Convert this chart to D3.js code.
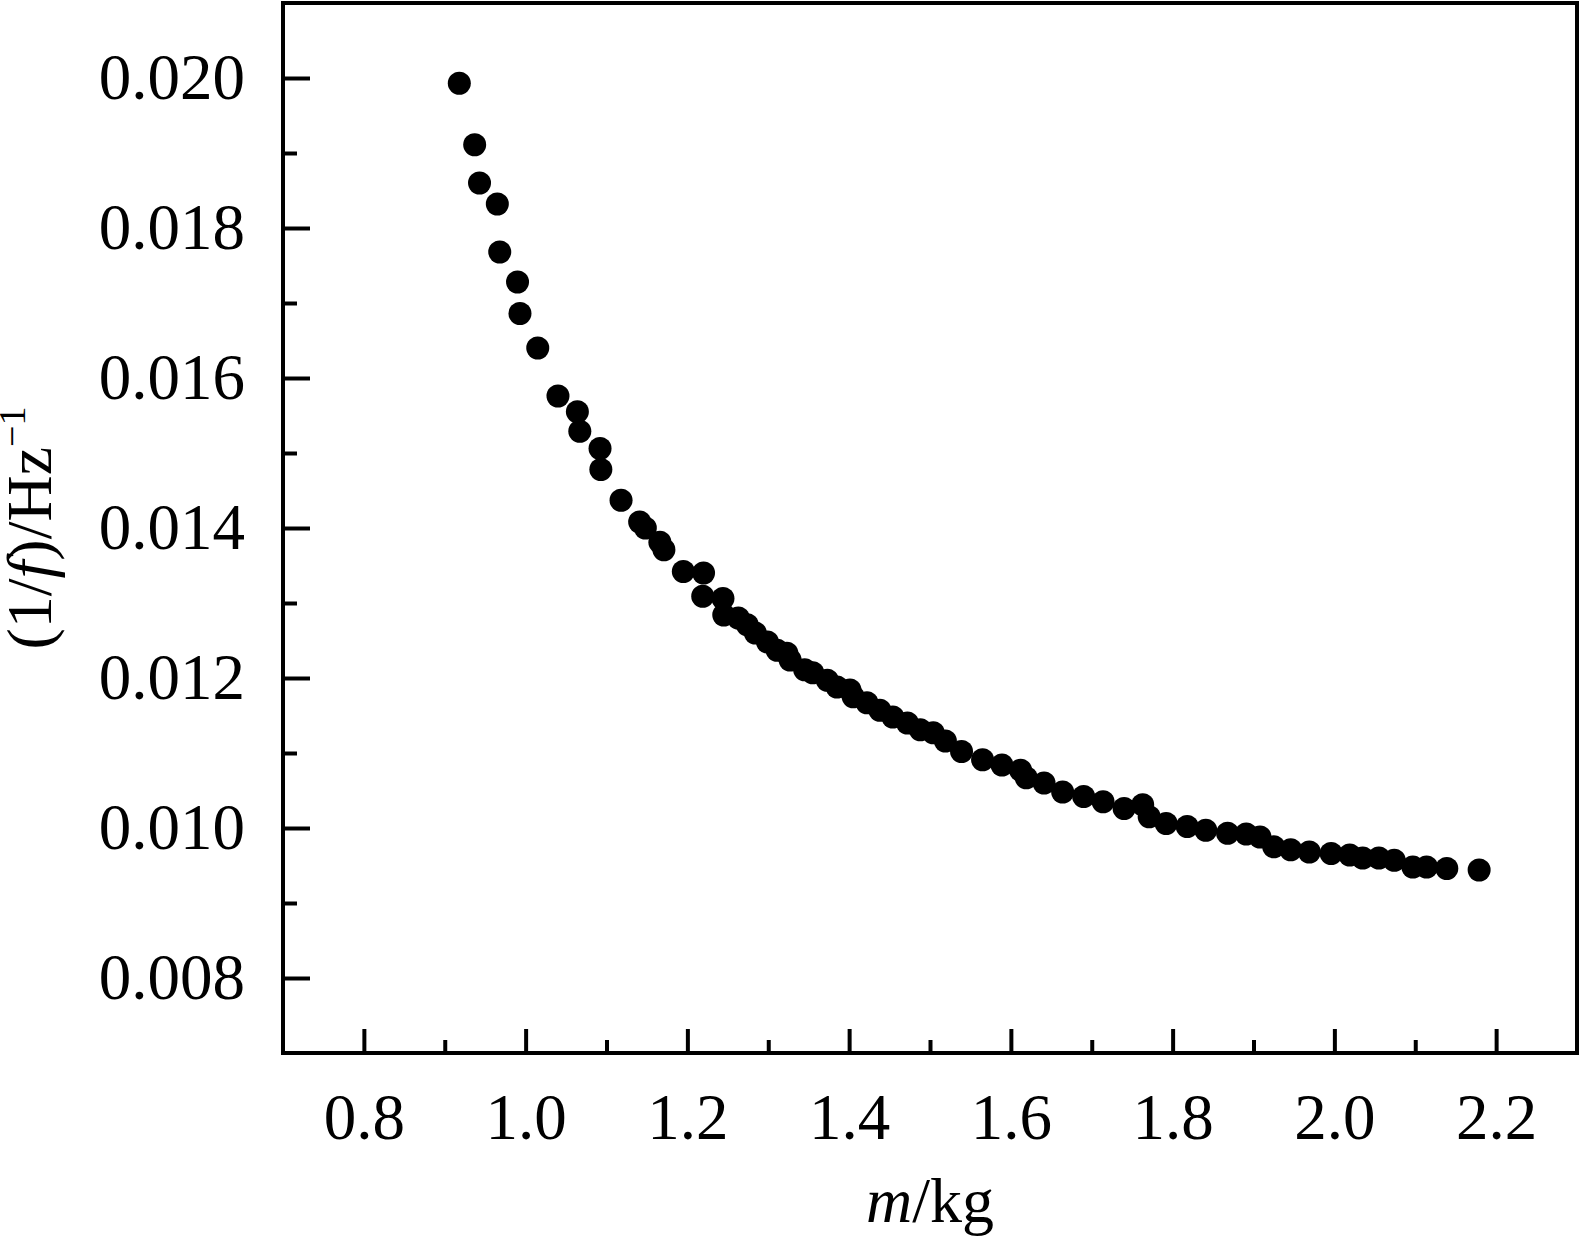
<!DOCTYPE html>
<html>
<head>
<meta charset="utf-8">
<script src="https://cdn.jsdelivr.net/npm/d3@7"></script>
<style>
  body { margin: 0; background: #fff; }
  svg text { font-family: "Liberation Serif", "Times New Roman", serif; fill: #000; }
</style>
</head>
<body>
<svg id="chart"></svg>
<script>
// masse (kg) e periodo 1/f (Hz^-1)
const massKg = [
  0.918, 0.937, 0.943, 0.965, 0.968, 0.990, 0.993, 1.015, 1.040, 1.064,
  1.067, 1.092, 1.093, 1.118, 1.141, 1.148, 1.166, 1.171, 1.195, 1.220,
  1.219, 1.244, 1.245, 1.263, 1.274, 1.284, 1.299, 1.311, 1.323, 1.327,
  1.345, 1.355, 1.373, 1.385, 1.401, 1.405, 1.422, 1.438, 1.454, 1.472,
  1.488, 1.504, 1.519, 1.539, 1.565, 1.589, 1.612, 1.619, 1.641, 1.664,
  1.690, 1.714, 1.740, 1.763, 1.771, 1.792, 1.818, 1.841, 1.868, 1.891,
  1.908, 1.925, 1.946, 1.969, 1.996, 2.019, 2.035, 2.055, 2.074, 2.097,
  2.114, 2.139, 2.179
];
const invFreq = [
  0.01993, 0.01911, 0.01860, 0.01832, 0.01768, 0.01728, 0.01686, 0.01640, 0.01576, 0.01555,
  0.01529, 0.01506, 0.01478, 0.01437, 0.01408, 0.01400, 0.01381, 0.01371, 0.01342, 0.01340,
  0.01309, 0.01306, 0.01284, 0.01280, 0.01271, 0.01260, 0.01248, 0.01237, 0.01233, 0.01224,
  0.01211, 0.01207, 0.01197, 0.01188, 0.01184, 0.01175, 0.01167, 0.01157, 0.01148, 0.01140,
  0.01131, 0.01127, 0.01116, 0.01102, 0.01091, 0.01084, 0.01077, 0.01067, 0.01060, 0.01048,
  0.01042, 0.01035, 0.01026, 0.01031, 0.01015, 0.01006, 0.01002, 0.00997, 0.00993, 0.00992,
  0.00988, 0.00975, 0.00971, 0.00968, 0.00966, 0.00964, 0.00960, 0.00960, 0.00957, 0.00948,
  0.00948, 0.00946, 0.00944
];

const xTicks = [0.8, 1.0, 1.2, 1.4, 1.6, 1.8, 2.0, 2.2];
const xMinorTicks = [0.9, 1.1, 1.3, 1.5, 1.7, 1.9, 2.1];
const yTicks = [0.008, 0.010, 0.012, 0.014, 0.016, 0.018, 0.020];
const yMinorTicks = [0.009, 0.011, 0.013, 0.015, 0.017, 0.019];

const width = 1581;
const height = 1239;
const plot = { left: 283, right: 1577, top: 3, bottom: 1053 };

const svg = d3.select("#chart")
    .attr("width", width)
    .attr("height", height);

const x = d3.scaleLinear().domain([0.7, 2.3]).range([plot.left, plot.right]);
const y = d3.scaleLinear().domain([0.007, 0.021]).range([plot.bottom, plot.top]);

// tacche principali e secondarie, rivolte verso l'interno
svg.append("g")
    .attr("transform", `translate(0,${plot.bottom})`)
    .call(d3.axisBottom(x).tickValues(xTicks).tickSize(-24).tickPadding(40).tickFormat(d3.format(".1f")));
svg.append("g")
    .attr("transform", `translate(0,${plot.bottom})`)
    .call(d3.axisBottom(x).tickValues(xMinorTicks).tickSize(-13).tickFormat(""));

svg.append("g")
    .attr("transform", `translate(${plot.left},0)`)
    .call(d3.axisLeft(y).tickValues(yTicks).tickSize(-27).tickPadding(38).tickFormat(d3.format(".3f")));
svg.append("g")
    .attr("transform", `translate(${plot.left},0)`)
    .call(d3.axisLeft(y).tickValues(yMinorTicks).tickSize(-14).tickFormat(""));

svg.selectAll(".domain").remove();
svg.selectAll(".tick line").attr("stroke", "#000").attr("stroke-width", 4);
svg.selectAll(".tick text").attr("font-size", 65).attr("font-family", "Liberation Serif, serif");

// cornice
svg.append("rect")
    .attr("x", plot.left)
    .attr("y", plot.top)
    .attr("width", plot.right - plot.left)
    .attr("height", plot.bottom - plot.top)
    .attr("fill", "none")
    .attr("stroke", "#000")
    .attr("stroke-width", 4);

// punti
const points = massKg.map((m, i) => ({ m: m, t: invFreq[i] }));
svg.append("g")
    .selectAll("circle")
    .data(points)
    .join("circle")
    .attr("cx", d => x(d.m))
    .attr("cy", d => y(d.t))
    .attr("r", 11.5)
    .attr("fill", "#000");

// titoli degli assi
const xTitle = svg.append("text")
    .attr("x", (plot.left + plot.right) / 2)
    .attr("y", 1222)
    .attr("text-anchor", "middle")
    .attr("font-size", 64);
xTitle.append("tspan").attr("font-style", "italic").text("m");
xTitle.append("tspan").text("/kg");

const yTitle = svg.append("text")
    .attr("transform", `translate(51,${(plot.top + plot.bottom) / 2}) rotate(-90)`)
    .attr("text-anchor", "middle")
    .attr("font-size", 64);
yTitle.append("tspan").text("(1/");
yTitle.append("tspan").attr("font-style", "italic").text("f");
yTitle.append("tspan").text(")/Hz");
yTitle.append("tspan").attr("font-size", 38).attr("dy", -26).text("\u22121");
</script>
</body>
</html>
